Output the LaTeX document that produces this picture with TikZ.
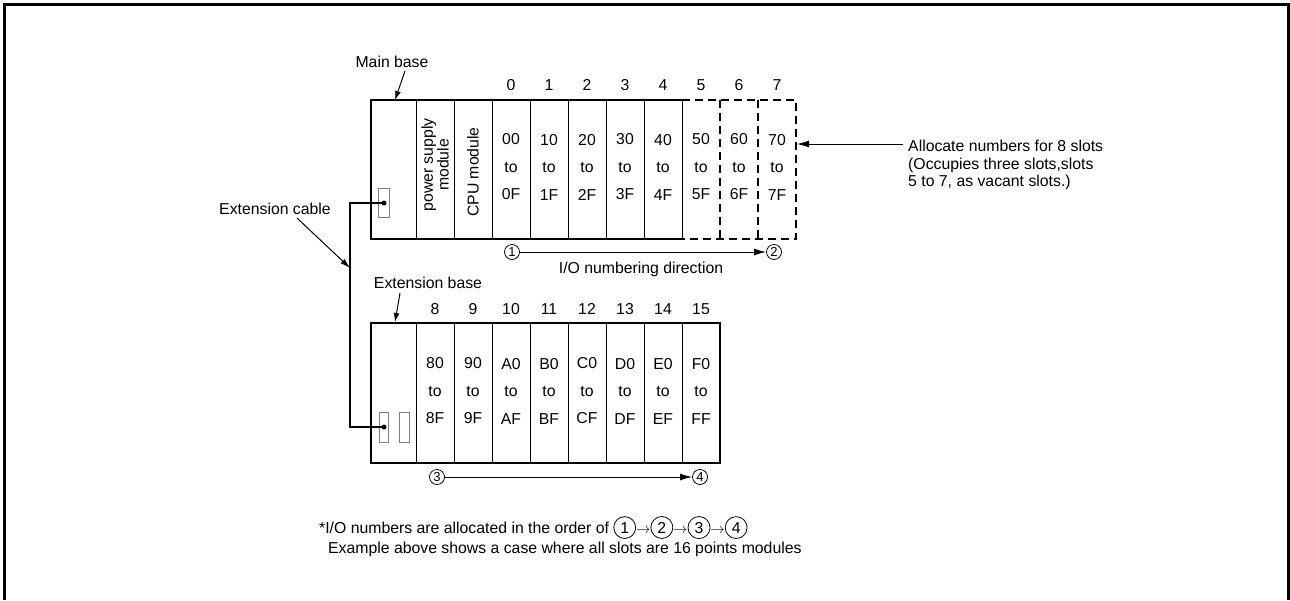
\documentclass[tikz,border=0pt]{standalone}
\usepackage{fontspec}
\setmainfont{Liberation Sans}
\usetikzlibrary{arrows.meta}

\newcommand{\cnum}[1]{\tikz[baseline=(cn.base)]\node[draw,circle,line width=0.8pt,inner sep=2.8pt](cn){#1};}

\begin{document}
\begin{tikzpicture}[x=1pt, y=-1pt, every node/.style={font=\fontsize{15.8}{17.5}\selectfont, inner sep=0pt}, >={Latex[length=12pt,width=7pt]},
	basebox/.style={line width=2pt},
	slotline/.style={line width=1pt},
	vacant/.style={line width=2pt, dash pattern=on 8pt off 5pt},
	vacantline/.style={line width=1.3pt, dash pattern=on 8pt off 5pt},
	plug/.style={draw=gray, fill=white, line width=1pt},
	pointer/.style={->, line width=1pt},
	numcirc/.style={draw, circle, line width=0.8pt, minimum size=15pt, font=\fontsize{13}{13}\selectfont},
	addr/.style={align=center, font=\fontsize{15.8}{27.5}\selectfont}]
	\useasboundingbox (0,0) rectangle (1290,600);
	\draw[line width=3pt] (4.5,600) -- (4.5,4.5) -- (1288,4.5) -- (1288,600);

	% main base
	\draw[basebox] (682,100) -- (371,100) -- (371,239) -- (682,239);
	\foreach \x in {416,454,...,682}
		\draw[slotline] (\x,100) -- (\x,239);
	\draw[vacant] (682,100) -- (796,100) -- (796,239) -- (682,239);
	\foreach \x in {720,758}
		\draw[vacantline] (\x,100) -- (\x,239);
	\node[rotate=90, align=center, font=\fontsize{15.8}{14}\selectfont] (psu) at (435,165) {power supply\\module};
	\node[rotate=90] (cpu) at (473,172) {CPU module};
	\foreach \k in {0,...,7} {
		\node (num\k) at ({511+38*\k},85) {\k};
		\node[addr] (io\k) at ({511+38*\k},167) {\k0\\to\\\k F};
	}

	% extension base
	\draw[basebox] (371,323) rectangle (720,463);
	\foreach \x in {416,454,...,682}
		\draw[slotline] (\x,323) -- (\x,463);
	\foreach \k/\h in {8/8,9/9,10/A,11/B,12/C,13/D,14/E,15/F} {
		\node (num\k) at ({435+38*(\k-8)},309) {\k};
		\node[addr] (io\k) at ({435+38*(\k-8)},391) {\h0\\to\\\h F};
	}

	% cable
	\draw[plug] (378,188) rectangle (389,217);
	\draw[plug] (379,412) rectangle (388,442);
	\draw[plug] (399,412) rectangle (409,442);
	\coordinate (jackM) at (384,203);
	\coordinate (jackE) at (384,427);
	\coordinate (bendM) at (350,203);
	\coordinate (bendE) at (350,427);
	\draw[line width=2pt] (jackM) -- (bendM) -- (bendE) -- (jackE);
	\fill (jackM) circle (2.5);
	\fill (jackE) circle (2.5);

	% labels
	\node (mainlbl) at (392,62) {Main base};
	\coordinate (mainTip) at (395,100);
	\draw[pointer, >={Latex[length=9pt,width=6pt]}] ([xshift=13pt,yshift=-3pt]mainlbl.south) -- (mainTip);
	\node (extlbl) at (428,283) {Extension base};
	\coordinate (extTip) at (395,322);
	\draw[pointer, >={Latex[length=9pt,width=6pt]}] ([xshift=-28pt,yshift=-4pt]extlbl.south) -- (extTip);
	\node (cablelbl) at (275,209) {Extension cable};
	\coordinate (cableTip) at (350,268);
	\draw[pointer, >={Latex[length=10pt,width=6pt]}] ([xshift=22pt,yshift=-3pt]cablelbl.south) -- (cableTip);

	% numbering direction
	\node[numcirc] (c1) at (512,252) {1};
	\node[numcirc] (c2) at (774,252) {2};
	\node[numcirc] (c3) at (437,477) {3};
	\node[numcirc] (c4) at (700,477) {4};
	\draw[pointer] (c1) -- (c2);
	\draw[pointer] (c3) -- (c4);
	\node (dirlbl) at (641,269) {I/O numbering direction};

	\node[anchor=west, align=left] (alloc) at (908,165) {Allocate numbers for 8 slots\\(Occupies three slots,slots\\5 to 7, as vacant slots.)};
	\coordinate (allocTail) at (903,144);
	\coordinate (allocTip) at (797,144);
	\draw[pointer] (allocTail) -- (allocTip);

	\node[anchor=base west] (note1) at (319,533) {*I/O numbers are allocated in the order of \cnum{1}$\rightarrow$\cnum{2}$\rightarrow$\cnum{3}$\rightarrow$\cnum{4}};
	\node[anchor=base west] (note2) at (328,553) {Example above shows a case where all slots are 16 points modules};
\end{tikzpicture}
\end{document}
